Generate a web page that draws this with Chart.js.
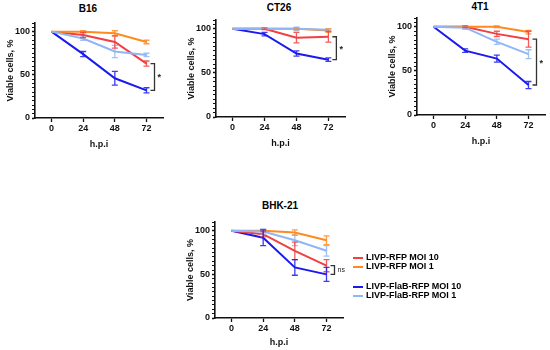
<!DOCTYPE html>
<html>
<head>
<meta charset="utf-8">
<script src="https://cdn.jsdelivr.net/npm/chart.js@4"></script>
<style>
  html, body { margin: 0; padding: 0; background: #fff; overflow: hidden; }
  body { width: 550px; height: 350px; position: relative; font-family: "Liberation Sans", Arial, sans-serif; }
  canvas { position: absolute; }
  .ttl { position: absolute; font-weight: bold; font-size: 10px; transform: translateX(-50%); white-space: nowrap; }
  .leg { position: absolute; left: 353px; font-weight: bold; font-size: 9px; line-height: 10px; white-space: nowrap; }
  .leg span { display: inline-block; width: 10px; height: 2px; margin-right: 3px; vertical-align: middle; }
</style>
</head>
<body>
<div class="ttl" style="left:88px; top:3px">B16</div>
<div class="ttl" style="left:279px; top:2px">CT26</div>
<div class="ttl" style="left:480px; top:1px">4T1</div>
<div class="ttl" style="left:280px; top:200px">BHK-21</div>

<canvas id="b16" width="180" height="160" style="left:0px; top:0px"></canvas>
<canvas id="ct26" width="180" height="160" style="left:181px; top:0px"></canvas>
<canvas id="t41" width="168" height="160" style="left:382px; top:0px"></canvas>
<canvas id="bhk" width="180" height="170" style="left:180px; top:180px"></canvas>

<div class="leg" style="top:252px"><span style="background:#f23f3f"></span>LIVP-RFP MOI 10</div>
<div class="leg" style="top:261px"><span style="background:#ff8a1e"></span>LIVP-RFP MOI 1</div>
<div class="leg" style="top:281px"><span style="background:#1a1aee"></span>LIVP-FlaB-RFP MOI 10</div>
<div class="leg" style="top:290px"><span style="background:#8fb6f5"></span>LIVP-FlaB-RFP MOI 1</div>

<script>
// time points, hours post infection
const hours = [0, 24, 48, 72];
const xTicks = [0, 24, 48, 72];
const yTicks = [0, 5, 10, 15, 20, 25, 30, 35, 40, 45, 50, 55, 60, 65, 70, 75, 80, 85, 90, 95, 100, 105, 110];
const yLabels = [0, 50, 100];

// B16
const b16Rfp10 = [100, 96, 88, 63];
const b16Rfp10Err = [0, 3, 7, 3];
const b16Rfp1 = [100, 100, 98, 88];
const b16Rfp1Err = [0, 1, 3, 2];
const b16Flab10 = [100, 74, 46, 32];
const b16Flab10Err = [0, 3, 8, 3];
const b16Flab1 = [100, 92, 77, 73];
const b16Flab1Err = [0, 2, 7, 2];

// CT26
const ct26Rfp10 = [100, 100, 90, 91];
const ct26Rfp10Err = [0, 1, 6, 6];
const ct26Rfp1 = [100, 100, 100, 98];
const ct26Rfp1Err = [0, 0, 1, 2];
const ct26Flab10 = [100, 94, 72, 65];
const ct26Flab10Err = [0, 2, 3, 2];
const ct26Flab1 = [100, 100, 100, 99];
const ct26Flab1Err = [0, 0, 2, 1];

// 4T1
const t41Rfp10 = [100, 100, 92, 86];
const t41Rfp10Err = [0, 1, 3, 9];
const t41Rfp1 = [100, 100, 100, 94];
const t41Rfp1Err = [0, 0, 1, 2];
const t41Flab10 = [100, 73, 64, 34];
const t41Flab10Err = [0, 2, 4, 4];
const t41Flab1 = [100, 99, 83, 69];
const t41Flab1Err = [0, 2, 3, 5];

// BHK-21
const bhkRfp10 = [100, 96, 77, 60];
const bhkRfp10Err = [0, 3, 10, 7];
const bhkRfp1 = [100, 100, 98, 89];
const bhkRfp1Err = [0, 1, 3, 5];
const bhkFlab10 = [100, 92, 58, 50];
const bhkFlab10Err = [0, 9, 9, 8];
const bhkFlab1 = [100, 99, 89, 77];
const bhkFlab1Err = [0, 3, 6, 6];

const RED = "#f23f3f", ORANGE = "#ff8a1e", BLUE = "#1a1aee", LIGHT = "#8fb6f5";

// vertical error bars with caps, drawn through the chart scales
const errorBars = {
  id: "errorBars",
  afterDatasetsDraw(chart) {
    const ctx = chart.ctx;
    const x = chart.scales.x, y = chart.scales.y;
    chart.data.datasets.forEach((ds) => {
      if (!ds.errors) return;
      ctx.save();
      ctx.strokeStyle = ds.borderColor;
      ctx.globalAlpha = 0.85;
      ctx.lineWidth = 1.3;
      ds.data.forEach((p, i) => {
        const e = ds.errors[i];
        if (!e) return;
        const px = x.getPixelForValue(p.x);
        const top = y.getPixelForValue(p.y + e);
        const bot = y.getPixelForValue(p.y - e);
        ctx.beginPath();
        ctx.moveTo(px, top); ctx.lineTo(px, bot);
        ctx.moveTo(px - 3, top); ctx.lineTo(px + 3, top);
        ctx.moveTo(px - 3, bot); ctx.lineTo(px + 3, bot);
        ctx.stroke();
      });
      ctx.restore();
    });
  },
};

// significance bracket at the last time point
const bracket = {
  id: "bracket",
  afterDraw(chart, args, opts) {
    if (!opts || opts.from == null) return;
    const ctx = chart.ctx;
    const x = chart.scales.x, y = chart.scales.y;
    const px = x.getPixelForValue(opts.at) + 8;
    const y1 = y.getPixelForValue(opts.from);
    const y2 = y.getPixelForValue(opts.to);
    ctx.save();
    ctx.strokeStyle = "#333";
    ctx.lineWidth = 1.3;
    ctx.beginPath();
    ctx.moveTo(px - 4, y1); ctx.lineTo(px, y1); ctx.lineTo(px, y2); ctx.lineTo(px - 4, y2);
    ctx.stroke();
    ctx.fillStyle = "#222";
    ctx.font = opts.label === "*" ? "bold 9px 'Liberation Sans', Arial" : "7px 'Liberation Sans', Arial";
    ctx.textAlign = "left";
    ctx.textBaseline = "middle";
    ctx.fillText(opts.label, px + 3, (y1 + y2) / 2 + (opts.label === "*" ? 1 : 0));
    ctx.restore();
  },
};

function series(values, errs, color) {
  return {
    data: hours.map((h, i) => ({ x: h, y: values[i] })),
    errors: errs,
    borderColor: color,
    backgroundColor: color,
    borderWidth: 2,
    pointRadius: 0,
    tension: 0,
  };
}

function panel(id, sets, br, pad) {
  const font = { family: "'Liberation Sans', Arial, sans-serif", size: 9, weight: "bold" };
  new Chart(document.getElementById(id), {
    type: "line",
    data: { datasets: sets },
    options: {
      responsive: false,
      animation: false,
      layout: { padding: pad },
      plugins: { legend: { display: false }, tooltip: { enabled: false }, bracket: br },
      scales: {
        x: {
          type: "linear",
          min: -12.5,
          max: 84.5,
          afterBuildTicks: (s) => { s.ticks = xTicks.map((v) => ({ value: v })); },
          afterFit: (s) => { s.height = pad.xh; },
          ticks: { color: "#111", font, padding: 1, maxRotation: 0, autoSkip: false, callback: (v) => v },
          grid: { display: true, drawOnChartArea: false, tickLength: 4, tickColor: "#111", tickWidth: 1.3 },
          border: { display: true, color: "#111", width: 1.6 },
          title: { display: true, text: "h.p.i", color: "#111", font, padding: { top: 0, bottom: pad.tb } },
        },
        y: {
          min: 0,
          max: 110,
          afterBuildTicks: (s) => { s.ticks = yTicks.map((v) => ({ value: v })); },
          afterFit: (s) => { s.width = 35; },
          ticks: {
            color: "#111", font, padding: 2, autoSkip: false,
            callback: (v) => (yLabels.includes(v) ? v : ""),
          },
          grid: {
            display: true, drawOnChartArea: false, tickLength: 3,
            tickColor: "#111",
            tickWidth: (c) => (c.tick && yLabels.includes(c.tick.value) ? 1.6 : 1),
          },
          border: { display: true, color: "#111", width: 1.6 },
          title: { display: true, text: "Viable cells, %", color: "#111", font, padding: { top: 5, bottom: 0 } },
        },
      },
    },
    plugins: [errorBars, bracket],
  });
}

panel("b16", [
  series(b16Flab1, b16Flab1Err, LIGHT),
  series(b16Rfp1, b16Rfp1Err, ORANGE),
  series(b16Rfp10, b16Rfp10Err, RED),
  series(b16Flab10, b16Flab10Err, BLUE),
], { at: 72, from: b16Rfp10[3], to: b16Flab10[3], label: "*" },
{ top: 23, right: 17, bottom: 6, left: 0, xh: 36, tb: 4 });

panel("ct26", [
  series(ct26Flab1, ct26Flab1Err, LIGHT),
  series(ct26Rfp1, ct26Rfp1Err, ORANGE),
  series(ct26Rfp10, ct26Rfp10Err, RED),
  series(ct26Flab10, ct26Flab10Err, BLUE),
], { at: 72, from: ct26Rfp10[3], to: ct26Flab10[3], label: "*" },
{ top: 20, right: 16, bottom: 7, left: 0, xh: 36, tb: 4 });

panel("t41", [
  series(t41Flab1, t41Flab1Err, LIGHT),
  series(t41Rfp1, t41Rfp1Err, ORANGE),
  series(t41Rfp10, t41Rfp10Err, RED),
  series(t41Flab10, t41Flab10Err, BLUE),
], { at: 72, from: t41Rfp10[3], to: t41Flab10[3], label: "*" },
{ top: 18, right: 5, bottom: 9, left: 0, xh: 36, tb: 4 });

panel("bhk", [
  series(bhkFlab1, bhkFlab1Err, LIGHT),
  series(bhkRfp1, bhkRfp1Err, ORANGE),
  series(bhkRfp10, bhkRfp10Err, RED),
  series(bhkFlab10, bhkFlab10Err, BLUE),
], { at: 72, from: bhkRfp10[3], to: bhkFlab10[3], label: "ns" },
{ top: 42, right: 17, bottom: 2, left: 0, xh: 30, tb: 0 });
</script>
</body>
</html>
